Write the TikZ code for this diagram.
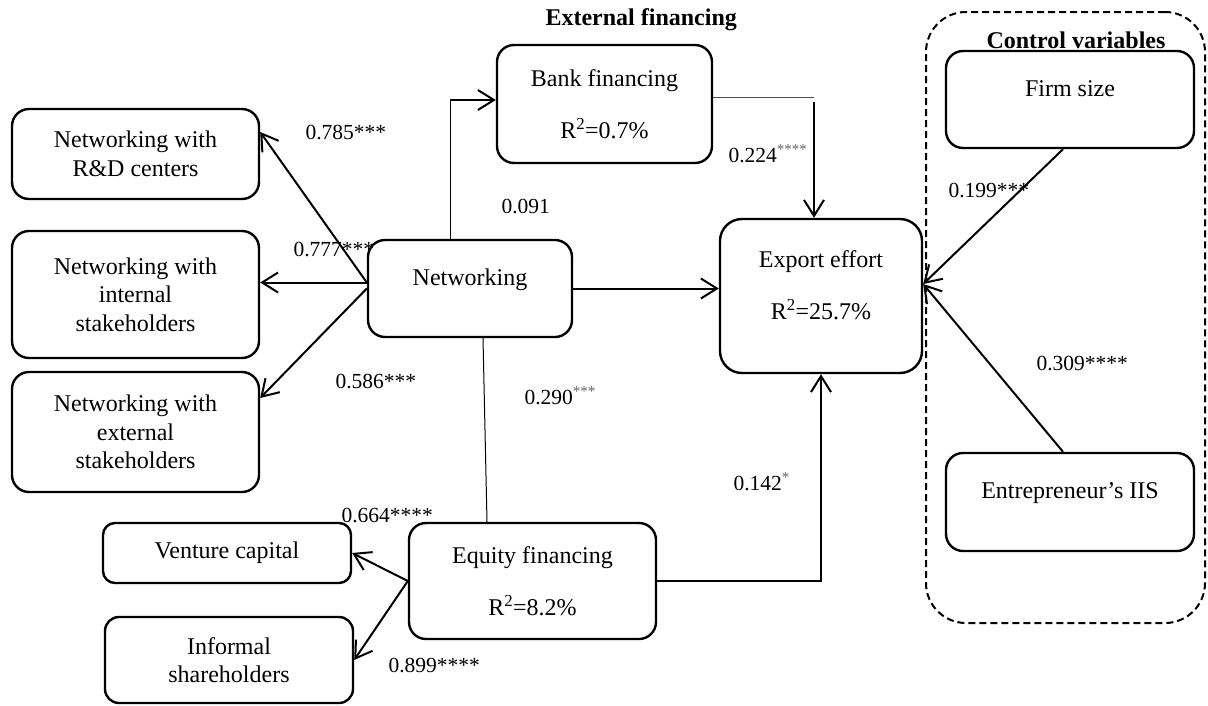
\documentclass[tikz,border=0pt]{standalone}
\usepackage{fontspec}
\setmainfont{Liberation Serif}
\usetikzlibrary{arrows}
\usetikzlibrary{arrows.meta}

\begin{document}
\begin{tikzpicture}[x=1pt,y=-1pt,
    font=\fontsize{24}{28.5}\selectfont,
    box/.style={draw,line width=2.4pt,rounded corners=17pt,align=center,inner sep=0pt},
    lift/.style={text depth=22pt},
    arr/.style={line width=2pt,-{Straight Barb[length=16pt,width=20pt]}},
    thinline/.style={line width=1pt},
    coef/.style={anchor=base west,font=\fontsize{21.5}{24}\selectfont},
    head/.style={anchor=base west,font=\fontsize{24}{28}\selectfont\bfseries}]

    \useasboundingbox (0,0) rectangle (1208,705);

    % control group frame
    \node[draw,dashed,dash pattern=on 7pt off 4pt,line width=2pt,rounded corners=40pt,
          minimum width=279pt,minimum height=611pt] (ctrl) at (1065.5,317.5) {};
    \node[head] (ctrltitle) at (983,48) {Control variables};
    \node[head] (exttitle) at (542,25) {External financing};

    % draw boxes
    \node[box,minimum width=247pt,minimum height=90pt] (rd) at (135.5,154) {Networking with\\R\&D centers};
    \node[box,minimum width=247pt,minimum height=127pt] (inl) at (135.5,294.5) {Networking with\\internal\\stakeholders};
    \node[box,minimum width=247pt,minimum height=120pt] (exl) at (135.5,432) {Networking with\\external\\stakeholders};
    \node[box,lift,minimum width=204pt,minimum height=97pt] (net) at (470,288.5) {Networking};
    \node[box,minimum width=215pt,minimum height=118pt] (bank) at (604.5,104) {Bank financing\\[23pt]R\textsuperscript{2}=0.7\%};
    \node[box,lift,minimum width=202pt,minimum height=154pt,rounded corners=22pt] (export) at (821,296) {Export effort\\[23pt]R\textsuperscript{2}=25.7\%};
    \node[box,minimum width=247pt,minimum height=116pt] (eq) at (532.5,581) {Equity financing\\[23pt]R\textsuperscript{2}=8.2\%};
    \node[box,minimum width=248pt,minimum height=60pt,rounded corners=12pt] (vc) at (227,553) {Venture capital};
    \node[box,minimum width=248pt,minimum height=86pt,rounded corners=14pt] (inf) at (229,660) {Informal\\shareholders};
    \node[box,lift,minimum width=248pt,minimum height=97pt] (firm) at (1070,99.5) {Firm size};
    \node[box,lift,minimum width=248pt,minimum height=98pt] (iis) at (1070,502) {Entrepreneur’s IIS};

    % draw arrows
    \draw[arr] ([yshift=6pt]net.west) -- ([yshift=22pt]rd.east);
    \draw[arr] ([yshift=6pt]net.west) -- ([yshift=6pt]net.west -| inl.east);
    \draw[arr] (net.west) -- ([yshift=34pt]exl.east);
    \draw[arr] (net.east) -- (net.east -| export.west);

    \coordinate (nb) at (450,100);
    \draw[thinline] (net.north -| nb) -- (nb);
    \draw[arr] (nb) -- (nb -| bank.west);

    \coordinate (bk) at (814,97);
    \draw[thinline,black!70] (bank.east |- bk) -- (bk);
    \draw[arr] ([yshift=-5pt]bk) -- (export.north -| bk);

    \draw[thinline] ([xshift=13pt]net.south) -- ([xshift=-45.5pt]eq.north);
    \draw[arr] (eq.east) -| (export.south);
    \draw[arr] (eq.west) -- (vc.east);
    \draw[arr] (eq.west) -- (inf.east);

    \draw[arr] ([xshift=-7pt]firm.south) -- ([yshift=12pt]export.east);
    \draw[arr] ([xshift=-7pt]iis.north) -- ([yshift=12pt]export.east);

    % draw coefficients
    \node[coef] (c785) at (302,139) {0.785***};
    \node[coef] (c777) at (290,256) {0.777***};
    \node[coef] (c586) at (332,388) {0.586***};
    \node[coef] (c091) at (498,213) {0.091};
    \node[coef] (c224) at (725,162) {0.224\textsuperscript{\color{black!60}****}};
    \node[coef] (c290) at (521,404) {0.290\textsuperscript{\color{black!60}***}};
    \node[coef] (c142) at (730,490) {0.142\textsuperscript{\color{black!60}*}};
    \node[coef] (c664) at (338,522) {0.664****};
    \node[coef] (c899) at (385,672) {0.899****};
    \node[coef] (c199) at (945,197) {0.199***};
    \node[coef] (c309) at (1033,370) {0.309****};
\end{tikzpicture}
\end{document}
